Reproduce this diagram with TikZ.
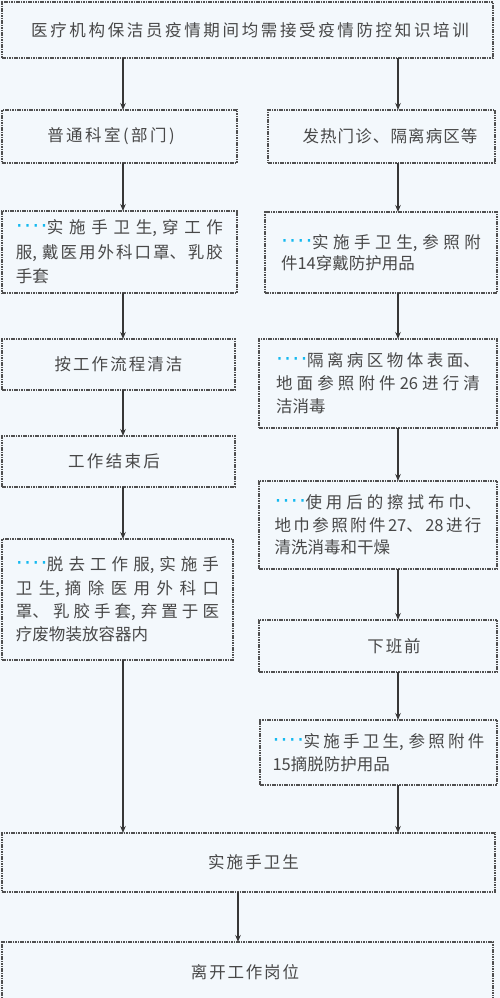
\documentclass[tikz,border=0pt]{standalone}
\usepackage{fontspec}
\setmainfont{Noto Sans CJK SC}
\newfontfamily\dvs{DejaVu Sans}
\usetikzlibrary{arrows.meta}
\XeTeXlinebreaklocale "zh"
\XeTeXlinebreakskip=0pt plus 10pt
\definecolor{bg}{RGB}{243,248,252}
\definecolor{txt}{RGB}{72,72,72}
\definecolor{bd}{RGB}{80,80,80}
\definecolor{ar}{RGB}{55,55,55}
\definecolor{dotblue}{RGB}{20,185,240}
\newcommand\tdots{\makebox[31pt][l]{\color{dotblue}\dvs\fontsize{22}{22}\selectfont\kern0pt·\kern1.2pt·\kern1.2pt·\kern1.2pt·}}
\newcommand\cm{,\kern5pt}
\newcommand\sline[3]{\makebox[0pt]{\kern#1\kern#1{\addfontfeature{LetterSpace=#2}#3}}}
\tikzset{
  box/.style={draw=bd, line width=1.2pt, dash pattern=on 1.6pt off 0.8pt,
    inner sep=0pt, outer sep=0pt, text=txt, font=\fontsize{16.5}{23}\selectfont},
  arr/.style={draw=ar, line width=1.6pt, -{Stealth[length=7pt,width=5.5pt]}}
}
\begin{document}
\begin{tikzpicture}[x=1pt,y=-1pt]
\useasboundingbox (0,0) rectangle (500,998);
\fill[bg] (0,0) rectangle (500,998);
\clip (0,0) rectangle (500,998);
\coordinate (ax) at (123,0);
\coordinate (bx) at (398,0);
\coordinate (cx) at (238,0);
% top
\node[box, minimum width=491pt, minimum height=56pt] (top) at (247.5,30) {\sline{2.5pt}{16}{医疗机构保洁员疫情期间均需接受疫情防控知识培训}};
% left column
\node[box, minimum width=235pt, minimum height=53pt] (l2) at (119.5,136.5) {\sline{-8.5pt}{15}{普通科室(部门)}};
\node[box, minimum width=235pt, minimum height=82pt, text width=207pt, align=justify, font=\fontsize{16.5}{24.5}\selectfont] (l3) at (119.5,252) {\tdots 实施手卫生\cm 穿工作\linebreak 服\cm 戴医用外科口罩、乳胶\linebreak 手套};
\node[box, minimum width=233pt, minimum height=51pt] (l4) at (118.5,364.5) {\sline{0pt}{12.5}{按工作流程清洁}};
\node[box, minimum width=233pt, minimum height=51pt] (l5) at (118.5,461.5) {\sline{-4.5pt}{14}{工作结束后}};
\node[box, minimum width=231pt, minimum height=121pt, text width=203pt, align=justify, font=\fontsize{16.5}{23.3}\selectfont] (l6) at (117.5,599.5) {\tdots 脱去工作服\cm 实施手\linebreak 卫生\cm 摘除医用外科口\linebreak 罩、乳胶手套\cm 弃置于医\linebreak 疗废物装放容器内};
% right column
\node[box, minimum width=227pt, minimum height=53pt] (r2) at (381.5,136.5) {\sline{8.5pt}{6.7}{发热门诊、隔离病区等}};
\node[box, minimum width=232pt, minimum height=81pt, text width=200pt, align=justify, font=\fontsize{16.5}{21.5}\selectfont] (r3) at (381,252.5) {\tdots 实施手卫生\cm 参照附\linebreak 件14穿戴防护用品};
\node[box, minimum width=238pt, minimum height=89pt, text width=204pt, align=justify, font=\fontsize{16.5}{23}\selectfont] (r4) at (378,383.5) {\tdots 隔离病区物体表面、\linebreak 地面参照附件26进行清\linebreak 洁消毒};
\node[box, minimum width=238pt, minimum height=88pt, text width=207pt, align=justify, font=\fontsize{16.5}{22.5}\selectfont] (r5) at (378,525) {\tdots 使用后的擦拭布巾、\linebreak 地巾参照附件27、28进行\linebreak 清洗消毒和干燥};
\node[box, minimum width=238pt, minimum height=52pt] (r6) at (378,646) {\sline{16pt}{11}{下班前}};
\node[box, minimum width=237pt, minimum height=65pt, text width=212pt, align=justify, font=\fontsize{16.5}{23}\selectfont] (r7) at (378.5,752.5) {\tdots 实施手卫生\cm 参照附件\linebreak 15摘脱防护用品};
% bottom
\node[box, minimum width=493pt, minimum height=59pt] (b1) at (248.5,862.5) {\sline{5pt}{12.7}{实施手卫生}};
\node[box, minimum width=491pt, minimum height=60pt] (last) at (247.5,972) {\sline{-2.5pt}{11}{离开工作岗位}};
% arrows
\draw[arr] (top.south -| ax) -- (l2.north -| ax);
\draw[arr] (top.south -| bx) -- (r2.north -| bx);
\draw[arr] (l2.south -| ax) -- (l3.north -| ax);
\draw[arr] (l3.south -| ax) -- (l4.north -| ax);
\draw[arr] (l4.south -| ax) -- (l5.north -| ax);
\draw[arr] (l5.south -| ax) -- (l6.north -| ax);
\draw[arr] (l6.south -| ax) -- (b1.north -| ax);
\draw[arr] (r2.south -| bx) -- (r3.north -| bx);
\draw[arr] (r3.south -| bx) -- (r4.north -| bx);
\draw[arr] (r4.south -| bx) -- (r5.north -| bx);
\draw[arr] (r5.south -| bx) -- (r6.north -| bx);
\draw[arr] (r6.south -| bx) -- (r7.north -| bx);
\draw[arr] (r7.south -| bx) -- (b1.north -| bx);
\draw[arr] (b1.south -| cx) -- (last.north -| cx);
\end{tikzpicture}
\end{document}
